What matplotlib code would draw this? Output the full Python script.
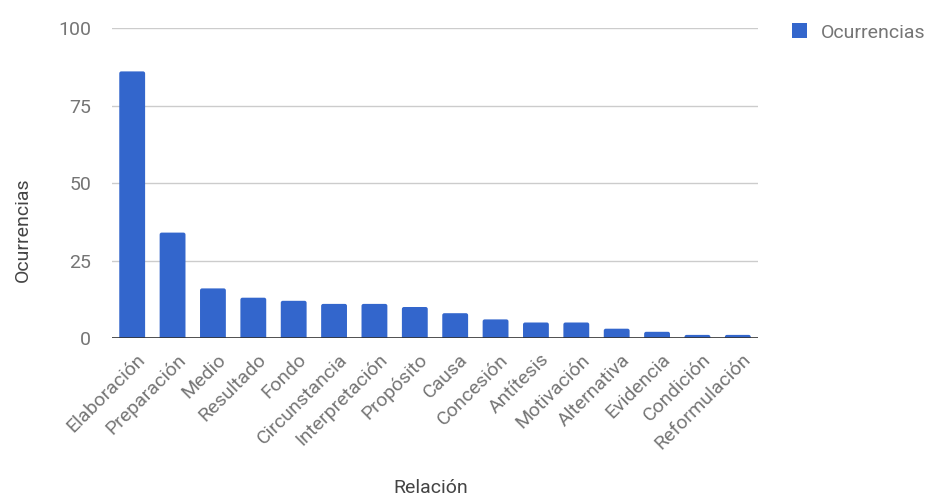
import matplotlib
matplotlib.use("Agg")
import matplotlib.pyplot as plt
import matplotlib.transforms as mtransforms
from matplotlib.patches import FancyBboxPatch, Patch

relaciones = ["Elaboración", "Preparación", "Medio", "Resultado", "Fondo",
              "Circunstancia", "Interpretación", "Propósito", "Causa",
              "Concesión", "Antítesis", "Motivación", "Alternativa",
              "Evidencia", "Condición", "Reformulación"]
ocurrencias = [86, 34, 16, 13, 12, 11, 11, 10, 8, 6, 5, 5, 3, 2, 1, 1]
y_ticks = [0, 25, 50, 75, 100]

BLUE = "#3366cc"
plt.rcParams['font.family'] = ['Roboto', 'DejaVu Sans']

fig = plt.figure(figsize=(9.3, 4.98), dpi=100)
ax = fig.add_axes([112 / 930, 160 / 498, 646 / 930, 310 / 498])

# bars with slightly rounded tops (bottom sits below the baseline, clipped)
bar_w = 0.64
for i, v in enumerate(ocurrencias):
    ax.add_patch(FancyBboxPatch((i - bar_w / 2, -1.5), bar_w, v + 1.5,
                                boxstyle="round,pad=0,rounding_size=0.05",
                                mutation_aspect=13, facecolor=BLUE,
                                edgecolor="none", zorder=3))

ax.set_xlim(-0.5, len(relaciones) - 0.5)
ax.set_ylim(0, 100)
ax.set_yticks(y_ticks)
ax.yaxis.grid(True, color="#cccccc", linewidth=1, zorder=0)
ax.axhline(0, color="#333333", linewidth=1.2, zorder=4)

for side in ["top", "right", "left", "bottom"]:
    ax.spines[side].set_visible(False)
ax.tick_params(axis="both", length=0, labelsize=14, labelcolor="#757575")
ax.tick_params(axis="y", pad=15)
ax.tick_params(axis="x", pad=9)
ax.set_xticks(range(len(relaciones)))
ax.set_xticklabels(relaciones, rotation=45, ha="right", rotation_mode="anchor")

# nudge the slanted category labels a little to the right
shift = mtransforms.ScaledTranslation(4 / 100, 0, fig.dpi_scale_trans)
for lbl in ax.get_xticklabels():
    lbl.set_transform(lbl.get_transform() + shift)

fig.text(23 / 930, 1 - 230 / 498, "Ocurrencias", rotation=90, fontsize=14,
         color="#444444", ha="center", va="center")
fig.text(431 / 930, 1 - 488 / 498, "Relación", fontsize=14,
         color="#444444", ha="center", va="center")

ax.legend(handles=[Patch(facecolor=BLUE, label="Ocurrencias")],
          loc="upper left", bbox_to_anchor=(1.04, 1.04), frameon=False,
          fontsize=14, labelcolor="#757575", handlelength=0.8, handleheight=0.8,
          handletextpad=0.7, borderaxespad=0)

fig.savefig("out.png", dpi=100)
